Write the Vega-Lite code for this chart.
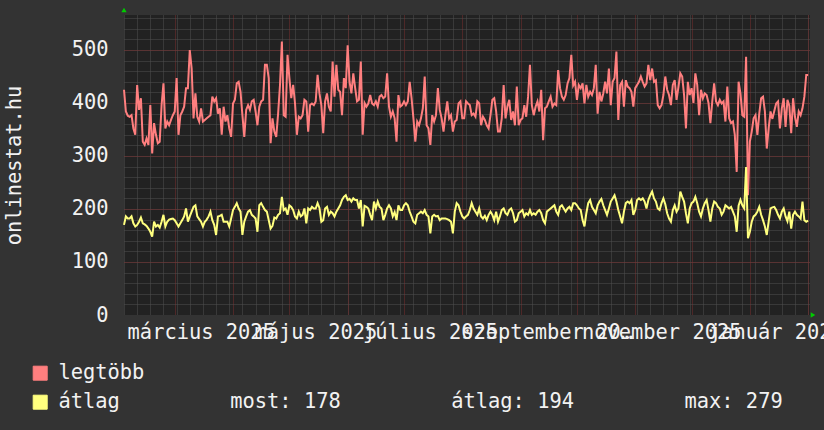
{
"$schema": "https://vega.github.io/schema/vega-lite/v6.json",
"width": 686, "height": 300,
"autosize": {"type": "none"},
"padding": {"left": 124, "top": 15, "right": 14, "bottom": 115},
"background": "#333333",
"config": {
  "font": "DejaVu Sans Mono",
  "view": {"fill": "#222222", "stroke": null},
  "axis": {"domain": false, "ticks": false, "labelFont": "DejaVu Sans Mono", "labelFontSize": 20.4, "labelColor": "#f2f2f2", "titleFont": "DejaVu Sans Mono", "titleFontSize": 20.4, "titleFontWeight": "normal", "titleColor": "#f2f2f2"}
},
"datasets": {"d": [
{"t":"2025-02-02","max":425,"avg":170},{"t":"2025-02-03","max":384,"avg":186},{"t":"2025-02-04","max":376,"avg":182},{"t":"2025-02-05","max":374,"avg":182},{"t":"2025-02-06","max":377,"avg":186},{"t":"2025-02-07","max":352,"avg":173},{"t":"2025-02-08","max":340,"avg":167},{"t":"2025-02-09","max":434,"avg":170},{"t":"2025-02-10","max":387,"avg":176},{"t":"2025-02-11","max":409,"avg":184},{"t":"2025-02-12","max":327,"avg":173},{"t":"2025-02-13","max":321,"avg":171},{"t":"2025-02-14","max":333,"avg":168},{"t":"2025-02-15","max":321,"avg":163},{"t":"2025-02-16","max":396,"avg":157},{"t":"2025-02-17","max":305,"avg":148},{"t":"2025-02-18","max":362,"avg":176},{"t":"2025-02-19","max":340,"avg":167},{"t":"2025-02-20","max":324,"avg":170},{"t":"2025-02-21","max":327,"avg":165},{"t":"2025-02-22","max":396,"avg":176},{"t":"2025-02-23","max":437,"avg":189},{"t":"2025-02-24","max":352,"avg":167},{"t":"2025-02-25","max":365,"avg":176},{"t":"2025-02-26","max":358,"avg":180},{"t":"2025-02-27","max":368,"avg":181},{"t":"2025-02-28","max":377,"avg":182},
{"t":"2025-03-01","max":384,"avg":179},{"t":"2025-03-02","max":447,"avg":173},{"t":"2025-03-03","max":340,"avg":167},{"t":"2025-03-04","max":377,"avg":173},{"t":"2025-03-05","max":384,"avg":179},{"t":"2025-03-06","max":393,"avg":186},{"t":"2025-03-07","max":428,"avg":201},{"t":"2025-03-08","max":428,"avg":176},{"t":"2025-03-09","max":500,"avg":186},{"t":"2025-03-10","max":465,"avg":195},{"t":"2025-03-11","max":371,"avg":204},{"t":"2025-03-12","max":418,"avg":207},{"t":"2025-03-13","max":374,"avg":186},{"t":"2025-03-14","max":365,"avg":181},{"t":"2025-03-15","max":390,"avg":176},{"t":"2025-03-16","max":365,"avg":167},{"t":"2025-03-17","max":368,"avg":176},{"t":"2025-03-18","max":371,"avg":180},{"t":"2025-03-19","max":374,"avg":186},{"t":"2025-03-20","max":377,"avg":195},{"t":"2025-03-21","max":412,"avg":179},{"t":"2025-03-22","max":403,"avg":170},{"t":"2025-03-23","max":409,"avg":151},{"t":"2025-03-24","max":380,"avg":186},{"t":"2025-03-25","max":390,"avg":187},{"t":"2025-03-26","max":340,"avg":189},{"t":"2025-03-27","max":393,"avg":176},{"t":"2025-03-28","max":365,"avg":176},{"t":"2025-03-29","max":377,"avg":176},{"t":"2025-03-30","max":352,"avg":167},{"t":"2025-03-31","max":336,"avg":182},
{"t":"2025-04-01","max":399,"avg":198},{"t":"2025-04-02","max":406,"avg":204},{"t":"2025-04-03","max":437,"avg":211},{"t":"2025-04-04","max":440,"avg":201},{"t":"2025-04-05","max":421,"avg":195},{"t":"2025-04-06","max":377,"avg":151},{"t":"2025-04-07","max":336,"avg":176},{"t":"2025-04-08","max":387,"avg":186},{"t":"2025-04-09","max":396,"avg":195},{"t":"2025-04-10","max":387,"avg":198},{"t":"2025-04-11","max":403,"avg":189},{"t":"2025-04-12","max":406,"avg":186},{"t":"2025-04-13","max":384,"avg":182},{"t":"2025-04-14","max":358,"avg":157},{"t":"2025-04-15","max":393,"avg":207},{"t":"2025-04-16","max":403,"avg":211},{"t":"2025-04-17","max":406,"avg":204},{"t":"2025-04-18","max":472,"avg":198},{"t":"2025-04-19","max":472,"avg":195},{"t":"2025-04-20","max":447,"avg":179},{"t":"2025-04-21","max":324,"avg":163},{"t":"2025-04-22","max":371,"avg":168},{"t":"2025-04-23","max":346,"avg":184},{"t":"2025-04-24","max":336,"avg":182},{"t":"2025-04-25","max":380,"avg":189},{"t":"2025-04-26","max":434,"avg":192},{"t":"2025-04-27","max":516,"avg":223},{"t":"2025-04-28","max":377,"avg":198},{"t":"2025-04-29","max":374,"avg":201},{"t":"2025-04-30","max":491,"avg":189},
{"t":"2025-05-01","max":447,"avg":207},{"t":"2025-05-02","max":409,"avg":204},{"t":"2025-05-03","max":434,"avg":198},{"t":"2025-05-04","max":399,"avg":186},{"t":"2025-05-05","max":340,"avg":182},{"t":"2025-05-06","max":374,"avg":195},{"t":"2025-05-07","max":371,"avg":186},{"t":"2025-05-08","max":377,"avg":189},{"t":"2025-05-09","max":406,"avg":201},{"t":"2025-05-10","max":403,"avg":173},{"t":"2025-05-11","max":346,"avg":201},{"t":"2025-05-12","max":396,"avg":198},{"t":"2025-05-13","max":399,"avg":204},{"t":"2025-05-14","max":396,"avg":201},{"t":"2025-05-15","max":403,"avg":201},{"t":"2025-05-16","max":453,"avg":211},{"t":"2025-05-17","max":418,"avg":202},{"t":"2025-05-18","max":396,"avg":176},{"t":"2025-05-19","max":343,"avg":179},{"t":"2025-05-20","max":403,"avg":201},{"t":"2025-05-21","max":418,"avg":204},{"t":"2025-05-22","max":393,"avg":189},{"t":"2025-05-23","max":384,"avg":195},{"t":"2025-05-24","max":478,"avg":192},{"t":"2025-05-25","max":412,"avg":186},{"t":"2025-05-26","max":472,"avg":195},{"t":"2025-05-27","max":425,"avg":201},{"t":"2025-05-28","max":421,"avg":207},{"t":"2025-05-29","max":377,"avg":217},{"t":"2025-05-30","max":447,"avg":223},{"t":"2025-05-31","max":428,"avg":226},
{"t":"2025-06-01","max":509,"avg":217},{"t":"2025-06-02","max":440,"avg":219},{"t":"2025-06-03","max":418,"avg":214},{"t":"2025-06-04","max":456,"avg":220},{"t":"2025-06-05","max":428,"avg":217},{"t":"2025-06-06","max":403,"avg":217},{"t":"2025-06-07","max":406,"avg":201},{"t":"2025-06-08","max":478,"avg":217},{"t":"2025-06-09","max":340,"avg":167},{"t":"2025-06-10","max":400,"avg":206},{"t":"2025-06-11","max":393,"avg":204},{"t":"2025-06-12","max":399,"avg":201},{"t":"2025-06-13","max":415,"avg":189},{"t":"2025-06-14","max":399,"avg":179},{"t":"2025-06-15","max":396,"avg":214},{"t":"2025-06-16","max":403,"avg":201},{"t":"2025-06-17","max":393,"avg":214},{"t":"2025-06-18","max":412,"avg":204},{"t":"2025-06-19","max":415,"avg":201},{"t":"2025-06-20","max":409,"avg":179},{"t":"2025-06-21","max":412,"avg":189},{"t":"2025-06-22","max":456,"avg":201},{"t":"2025-06-23","max":393,"avg":207},{"t":"2025-06-24","max":374,"avg":201},{"t":"2025-06-25","max":384,"avg":186},{"t":"2025-06-26","max":371,"avg":194},{"t":"2025-06-27","max":327,"avg":179},{"t":"2025-06-28","max":415,"avg":207},{"t":"2025-06-29","max":393,"avg":198},{"t":"2025-06-30","max":396,"avg":198},
{"t":"2025-07-01","max":403,"avg":207},{"t":"2025-07-02","max":396,"avg":211},{"t":"2025-07-03","max":403,"avg":207},{"t":"2025-07-04","max":440,"avg":195},{"t":"2025-07-05","max":409,"avg":186},{"t":"2025-07-06","max":371,"avg":176},{"t":"2025-07-07","max":327,"avg":173},{"t":"2025-07-08","max":365,"avg":189},{"t":"2025-07-09","max":358,"avg":192},{"t":"2025-07-10","max":371,"avg":195},{"t":"2025-07-11","max":390,"avg":192},{"t":"2025-07-12","max":450,"avg":198},{"t":"2025-07-13","max":358,"avg":189},{"t":"2025-07-14","max":352,"avg":186},{"t":"2025-07-15","max":321,"avg":154},{"t":"2025-07-16","max":377,"avg":186},{"t":"2025-07-17","max":365,"avg":189},{"t":"2025-07-18","max":377,"avg":186},{"t":"2025-07-19","max":428,"avg":187},{"t":"2025-07-20","max":387,"avg":179},{"t":"2025-07-21","max":371,"avg":182},{"t":"2025-07-22","max":346,"avg":182},{"t":"2025-07-23","max":377,"avg":182},{"t":"2025-07-24","max":403,"avg":181},{"t":"2025-07-25","max":371,"avg":179},{"t":"2025-07-26","max":377,"avg":176},{"t":"2025-07-27","max":346,"avg":154},{"t":"2025-07-28","max":365,"avg":195},{"t":"2025-07-29","max":368,"avg":211},{"t":"2025-07-30","max":399,"avg":207},{"t":"2025-07-31","max":403,"avg":195},
{"t":"2025-08-01","max":371,"avg":186},{"t":"2025-08-02","max":371,"avg":182},{"t":"2025-08-03","max":403,"avg":186},{"t":"2025-08-04","max":399,"avg":189},{"t":"2025-08-05","max":396,"avg":198},{"t":"2025-08-06","max":377,"avg":211},{"t":"2025-08-07","max":380,"avg":201},{"t":"2025-08-08","max":374,"avg":195},{"t":"2025-08-09","max":403,"avg":189},{"t":"2025-08-10","max":399,"avg":201},{"t":"2025-08-11","max":358,"avg":186},{"t":"2025-08-12","max":374,"avg":182},{"t":"2025-08-13","max":368,"avg":187},{"t":"2025-08-14","max":358,"avg":179},{"t":"2025-08-15","max":352,"avg":189},{"t":"2025-08-16","max":377,"avg":195},{"t":"2025-08-17","max":406,"avg":189},{"t":"2025-08-18","max":409,"avg":179},{"t":"2025-08-19","max":384,"avg":195},{"t":"2025-08-20","max":346,"avg":176},{"t":"2025-08-21","max":346,"avg":186},{"t":"2025-08-22","max":371,"avg":198},{"t":"2025-08-23","max":434,"avg":201},{"t":"2025-08-24","max":371,"avg":192},{"t":"2025-08-25","max":393,"avg":189},{"t":"2025-08-26","max":406,"avg":198},{"t":"2025-08-27","max":368,"avg":201},{"t":"2025-08-28","max":384,"avg":192},{"t":"2025-08-29","max":358,"avg":176},{"t":"2025-08-30","max":431,"avg":179},{"t":"2025-08-31","max":358,"avg":192},
{"t":"2025-09-01","max":368,"avg":195},{"t":"2025-09-02","max":371,"avg":198},{"t":"2025-09-03","max":396,"avg":186},{"t":"2025-09-04","max":374,"avg":192},{"t":"2025-09-05","max":412,"avg":189},{"t":"2025-09-06","max":472,"avg":198},{"t":"2025-09-07","max":396,"avg":189},{"t":"2025-09-08","max":377,"avg":192},{"t":"2025-09-09","max":393,"avg":189},{"t":"2025-09-10","max":403,"avg":195},{"t":"2025-09-11","max":384,"avg":198},{"t":"2025-09-12","max":425,"avg":192},{"t":"2025-09-13","max":330,"avg":179},{"t":"2025-09-14","max":390,"avg":173},{"t":"2025-09-15","max":393,"avg":195},{"t":"2025-09-16","max":403,"avg":198},{"t":"2025-09-17","max":412,"avg":201},{"t":"2025-09-18","max":393,"avg":204},{"t":"2025-09-19","max":399,"avg":207},{"t":"2025-09-20","max":396,"avg":195},{"t":"2025-09-21","max":462,"avg":189},{"t":"2025-09-22","max":428,"avg":204},{"t":"2025-09-23","max":412,"avg":207},{"t":"2025-09-24","max":406,"avg":201},{"t":"2025-09-25","max":415,"avg":195},{"t":"2025-09-26","max":437,"avg":201},{"t":"2025-09-27","max":447,"avg":204},{"t":"2025-09-28","max":491,"avg":198},{"t":"2025-09-29","max":433,"avg":211},{"t":"2025-09-30","max":440,"avg":211},
{"t":"2025-10-01","max":406,"avg":207},{"t":"2025-10-02","max":434,"avg":201},{"t":"2025-10-03","max":428,"avg":198},{"t":"2025-10-04","max":437,"avg":179},{"t":"2025-10-05","max":399,"avg":167},{"t":"2025-10-06","max":434,"avg":192},{"t":"2025-10-07","max":412,"avg":211},{"t":"2025-10-08","max":421,"avg":217},{"t":"2025-10-09","max":415,"avg":204},{"t":"2025-10-10","max":428,"avg":198},{"t":"2025-10-11","max":472,"avg":192},{"t":"2025-10-12","max":380,"avg":207},{"t":"2025-10-13","max":421,"avg":214},{"t":"2025-10-14","max":403,"avg":219},{"t":"2025-10-15","max":418,"avg":207},{"t":"2025-10-16","max":440,"avg":198},{"t":"2025-10-17","max":418,"avg":189},{"t":"2025-10-18","max":465,"avg":201},{"t":"2025-10-19","max":396,"avg":214},{"t":"2025-10-20","max":440,"avg":220},{"t":"2025-10-21","max":447,"avg":226},{"t":"2025-10-22","max":497,"avg":214},{"t":"2025-10-23","max":368,"avg":198},{"t":"2025-10-24","max":434,"avg":186},{"t":"2025-10-25","max":440,"avg":173},{"t":"2025-10-26","max":393,"avg":195},{"t":"2025-10-27","max":443,"avg":211},{"t":"2025-10-28","max":431,"avg":214},{"t":"2025-10-29","max":428,"avg":211},{"t":"2025-10-30","max":421,"avg":217},{"t":"2025-10-31","max":393,"avg":189},
{"t":"2025-11-01","max":428,"avg":198},{"t":"2025-11-02","max":434,"avg":217},{"t":"2025-11-03","max":440,"avg":220},{"t":"2025-11-04","max":450,"avg":217},{"t":"2025-11-05","max":440,"avg":220},{"t":"2025-11-06","max":431,"avg":214},{"t":"2025-11-07","max":437,"avg":201},{"t":"2025-11-08","max":472,"avg":217},{"t":"2025-11-09","max":443,"avg":226},{"t":"2025-11-10","max":465,"avg":233},{"t":"2025-11-11","max":440,"avg":220},{"t":"2025-11-12","max":443,"avg":214},{"t":"2025-11-13","max":396,"avg":201},{"t":"2025-11-14","max":390,"avg":198},{"t":"2025-11-15","max":396,"avg":211},{"t":"2025-11-16","max":415,"avg":220},{"t":"2025-11-17","max":450,"avg":209},{"t":"2025-11-18","max":425,"avg":192},{"t":"2025-11-19","max":415,"avg":182},{"t":"2025-11-20","max":396,"avg":176},{"t":"2025-11-21","max":434,"avg":198},{"t":"2025-11-22","max":443,"avg":207},{"t":"2025-11-23","max":406,"avg":195},{"t":"2025-11-24","max":430,"avg":201},{"t":"2025-11-25","max":456,"avg":233},{"t":"2025-11-26","max":450,"avg":223},{"t":"2025-11-27","max":415,"avg":214},{"t":"2025-11-28","max":352,"avg":192},{"t":"2025-11-29","max":440,"avg":173},{"t":"2025-11-30","max":415,"avg":201},
{"t":"2025-12-01","max":428,"avg":211},{"t":"2025-12-02","max":400,"avg":214},{"t":"2025-12-03","max":456,"avg":223},{"t":"2025-12-04","max":434,"avg":211},{"t":"2025-12-05","max":377,"avg":195},{"t":"2025-12-06","max":425,"avg":186},{"t":"2025-12-07","max":409,"avg":201},{"t":"2025-12-08","max":418,"avg":211},{"t":"2025-12-09","max":415,"avg":217},{"t":"2025-12-10","max":400,"avg":198},{"t":"2025-12-11","max":362,"avg":176},{"t":"2025-12-12","max":403,"avg":201},{"t":"2025-12-13","max":437,"avg":214},{"t":"2025-12-14","max":403,"avg":211},{"t":"2025-12-15","max":396,"avg":204},{"t":"2025-12-16","max":406,"avg":201},{"t":"2025-12-17","max":399,"avg":189},{"t":"2025-12-18","max":403,"avg":195},{"t":"2025-12-19","max":365,"avg":207},{"t":"2025-12-20","max":431,"avg":204},{"t":"2025-12-21","max":371,"avg":201},{"t":"2025-12-22","max":362,"avg":204},{"t":"2025-12-23","max":365,"avg":195},{"t":"2025-12-24","max":340,"avg":186},{"t":"2025-12-25","max":270,"avg":157},{"t":"2025-12-26","max":440,"avg":206},{"t":"2025-12-27","max":418,"avg":217},{"t":"2025-12-28","max":377,"avg":207},{"t":"2025-12-29","max":374,"avg":201},{"t":"2025-12-30","max":487,"avg":279},{"t":"2025-12-31","max":226,"avg":145},
{"t":"2026-01-01","max":327,"avg":157},{"t":"2026-01-02","max":346,"avg":176},{"t":"2026-01-03","max":371,"avg":186},{"t":"2026-01-04","max":377,"avg":189},{"t":"2026-01-05","max":340,"avg":195},{"t":"2026-01-06","max":380,"avg":204},{"t":"2026-01-07","max":409,"avg":189},{"t":"2026-01-08","max":412,"avg":179},{"t":"2026-01-09","max":384,"avg":167},{"t":"2026-01-10","max":314,"avg":151},{"t":"2026-01-11","max":352,"avg":176},{"t":"2026-01-12","max":384,"avg":201},{"t":"2026-01-13","max":370,"avg":203},{"t":"2026-01-14","max":385,"avg":204},{"t":"2026-01-15","max":399,"avg":198},{"t":"2026-01-16","max":403,"avg":189},{"t":"2026-01-17","max":352,"avg":182},{"t":"2026-01-18","max":390,"avg":195},{"t":"2026-01-19","max":409,"avg":201},{"t":"2026-01-20","max":355,"avg":186},{"t":"2026-01-21","max":406,"avg":177},{"t":"2026-01-22","max":395,"avg":195},{"t":"2026-01-23","max":343,"avg":163},{"t":"2026-01-24","max":409,"avg":189},{"t":"2026-01-25","max":374,"avg":195},{"t":"2026-01-26","max":355,"avg":189},{"t":"2026-01-27","max":384,"avg":186},{"t":"2026-01-28","max":377,"avg":182},{"t":"2026-01-29","max":390,"avg":214},{"t":"2026-01-30","max":412,"avg":179},{"t":"2026-01-31","max":453,"avg":176},
{"t":"2026-02-01","max":453,"avg":178}
]},
"resolve": {"axis": {"x": "independent", "y": "independent"}},
"layer": [
  {
    "data": {"name": "d"},
    "transform": [{"fold": ["max", "avg"], "as": ["series", "value"]}],
    "mark": {"type": "line", "strokeWidth": 2},
    "encoding": {
      "x": {"field": "t", "type": "temporal",
        "scale": {"type": "utc", "domain": [{"year": 2025, "month": 2, "date": 2, "utc": true}, {"year": 2026, "month": 2, "date": 2, "utc": true}]},
        "axis": {"orient": "bottom", "title": null, "labels": false, "grid": true, "gridColor": "#505050", "gridDash": [1, 1], "gridWidth": 1, "tickCount": {"interval": "week", "step": 1}}},
      "y": {"field": "value", "type": "quantitative",
        "scale": {"domain": [0, 566], "nice": false},
        "axis": {"orient": "left", "title": null, "labels": false, "grid": true, "gridColor": "#505050", "gridDash": [1, 1], "gridWidth": 1,
          "values": [20,40,60,80,100,120,140,160,180,200,220,240,260,280,300,320,340,360,380,400,420,440,460,480,500,520,540,560]}},
      "color": {"field": "series", "type": "nominal",
        "scale": {"domain": ["max", "avg"], "range": ["#ff7f7f", "#ffff7f"]},
        "legend": {"orient": "none", "legendX": -94, "legendY": 348, "title": null, "direction": "vertical",
          "symbolType": "square", "symbolSize": 196, "padding": 0, "rowPadding": 8, "labelOffset": 8,
          "labelFont": "DejaVu Sans Mono", "labelFontSize": 20.4, "labelColor": "#f2f2f2", "labelLimit": 2000,
          "labelExpr": "datum.value == 'max' ? 'legtöbb' : 'átlag\u00a0\u00a0\u00a0\u00a0\u00a0\u00a0\u00a0\u00a0\u00a0most: 178\u00a0\u00a0\u00a0\u00a0\u00a0\u00a0\u00a0\u00a0\u00a0átlag: 194\u00a0\u00a0\u00a0\u00a0\u00a0\u00a0\u00a0\u00a0\u00a0max: 279'",
          "encode": {"symbols": {"update": {"fill": {"scale": "color", "field": "value"}, "fillOpacity": {"value": 1}, "stroke": {"value": "#000000"}, "strokeWidth": {"value": 1}, "opacity": {"value": 1}}}}}}
    }
  },
  {
    "data": {"values": [{}]},
    "mark": {"type": "point", "shape": "triangle-up", "filled": true, "color": "#00cc00", "size": 28, "opacity": 1, "yOffset": -5},
    "encoding": {
      "x": {"datum": {"year": 2025, "month": 2, "date": 2, "utc": true}, "type": "temporal",
        "axis": {"orient": "bottom", "title": null, "labels": false, "grid": true, "gridColor": "#7a2e2e", "gridDash": [1, 1], "gridWidth": 1, "tickCount": {"interval": "month", "step": 1}}},
      "y": {"datum": 566, "type": "quantitative",
        "axis": {"orient": "left", "title": null, "labels": false, "grid": true, "gridColor": "#7a2e2e", "gridDash": [1, 1], "gridWidth": 1, "values": [100, 200, 300, 400, 500]}}
    }
  },
  {
    "data": {"values": [{}]},
    "mark": {"type": "point", "shape": "triangle-right", "filled": true, "color": "#00cc00", "size": 28, "opacity": 1, "xOffset": 3},
    "encoding": {
      "x": {"datum": {"year": 2026, "month": 2, "date": 2, "utc": true}, "type": "temporal",
        "axis": {"orient": "bottom", "title": null, "grid": false, "tickCount": {"interval": "month", "step": 2},
          "labelOffset": 26, "labelAlign": "center", "labelBaseline": "alphabetic", "labelPadding": 23,
          "labelOverlap": false, "labelFlush": false, "labelBound": false,
          "labelExpr": "['január','február','március','április','május','június','július','augusztus','szeptember','október','november','december'][utcmonth(datum.value)] + ' ' + utcyear(datum.value)"}},
      "y": {"datum": 0, "type": "quantitative",
        "axis": {"orient": "left", "title": "onlinestat.hu", "grid": false, "values": [0, 100, 200, 300, 400, 500],
          "labelPadding": 16, "labelAlign": "right", "labelBaseline": "middle",
          "titleX": -104, "titleY": 150, "titleAngle": -90, "titleBaseline": "alphabetic", "titleAlign": "center"}}
    }
  }
]
}
